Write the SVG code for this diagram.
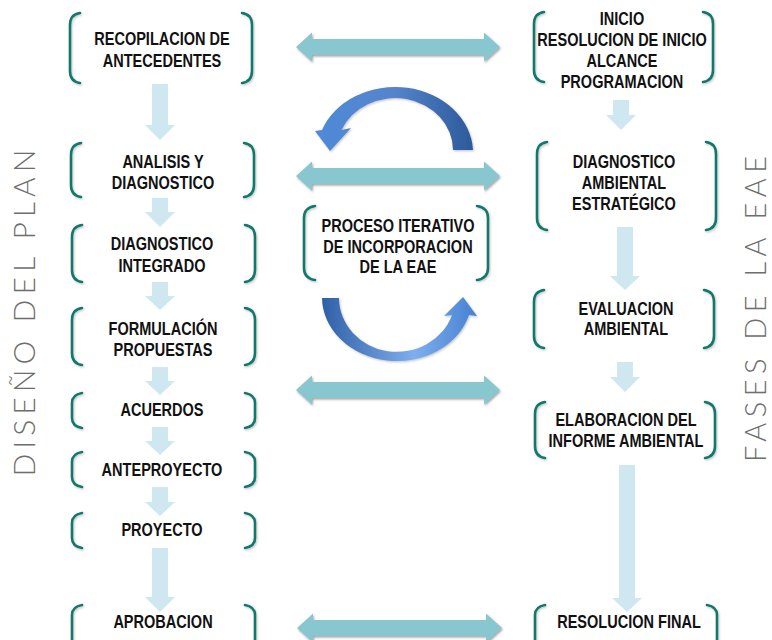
<svg xmlns="http://www.w3.org/2000/svg" width="772" height="640" viewBox="0 0 772 640">
<defs>
<style>
.br{fill:none;stroke:#0e7a70;stroke-width:2.6;stroke-linecap:round;filter:url(#sh)}
.t{font-family:"Liberation Sans",Arial,sans-serif;font-weight:bold;font-size:17.5px;fill:#111;text-anchor:middle}
.dn{fill:#cfe7f0}
.hz{fill:#88c7cf;filter:url(#sh2)}
.vt{font-family:Lato,"Open Sans","Liberation Sans",sans-serif;font-weight:300;font-size:30px;fill:#6e6e6e;text-anchor:middle}
</style>
<filter id="sh" x="-50%" y="-20%" width="200%" height="140%">
<feDropShadow dx="1" dy="1.2" stdDeviation="0.8" flood-color="#888" flood-opacity="0.5"/>
</filter>
<filter id="sh2" x="-10%" y="-40%" width="120%" height="180%">
<feDropShadow dx="1" dy="1.5" stdDeviation="0.9" flood-color="#666" flood-opacity="0.6"/>
</filter>
<linearGradient id="gTop" gradientUnits="userSpaceOnUse" x1="316" y1="120" x2="472" y2="120">
<stop offset="0" stop-color="#4f8ad8"/>
<stop offset="0.5" stop-color="#5484cc"/>
<stop offset="1" stop-color="#2d5a9a"/>
</linearGradient>
<linearGradient id="gBot" gradientUnits="userSpaceOnUse" x1="322" y1="320" x2="476" y2="320">
<stop offset="0" stop-color="#3060a6"/>
<stop offset="0.6" stop-color="#7eaeee"/>
<stop offset="1" stop-color="#4682d2"/>
</linearGradient>
</defs>

<g id="connectors">
<polygon class="dn" points="152,84 168,84 168,125 175,125 160,140 145,125 152,125"/>
<polygon class="dn" points="152,198 168,198 168,212 175,212 160,227 145,212 152,212"/>
<polygon class="dn" points="152,282 168,282 168,296 175,296 160,310 145,296 152,296"/>
<polygon class="dn" points="152,367 168,367 168,381 175,381 160,395 145,381 152,381"/>
<polygon class="dn" points="152,427 168,427 168,441 175,441 160,455 145,441 152,441"/>
<polygon class="dn" points="152,487 168,487 168,502 175,502 160,516 145,502 152,502"/>
<polygon class="dn" points="152,548 168,548 168,597 175,597 160,612 145,597 152,597"/>
<polygon class="dn" points="613,100 629,100 629,115 636,115 621,130 606,115 613,115"/>
<polygon class="dn" points="617,227 633,227 633,276 640,276 625,290 610,276 617,276"/>
<polygon class="dn" points="617,362 633,362 633,377 640,377 625,392 610,377 617,377"/>
<polygon class="dn" points="619,465 635,465 635,598 642,598 627,612 612,598 619,598"/>
<polygon class="hz" points="296,47 312,32.5 312,39 484,39 484,32.5 500,47 484,61.5 484,55 312,55 312,61.5"/>
<polygon class="hz" points="296,176 312,161.5 312,168 484,168 484,161.5 500,176 484,190.5 484,184 312,184 312,190.5"/>
<polygon class="hz" points="296,390 312,375.5 312,382 484,382 484,375.5 500,390 484,404.5 484,398 312,398 312,404.5"/>
<polygon class="hz" points="297,628 313,613.5 313,620 486,620 486,613.5 502,628 486,642.5 486,636 313,636 313,642.5"/>
<path fill="url(#gTop)" filter="url(#sh)" d="M473,150 A78,66 0 0 0 322,130 L315,131 L330,151 L351,128 L341.5,130 A58,52 0 0 1 453,150 Z"/>
<path fill="url(#gBot)" filter="url(#sh)" d="M322,298 A75,64 0 0 0 469,315 L477,316 L463,297 L444,316 L452,315 A58,54 0 0 1 339,298 Z"/>
</g>

<g id="label-diseno">
<text class="vt" transform="translate(35,313) rotate(-90)" textLength="327" lengthAdjust="spacing">DISEÑO DEL PLAN</text>
</g>
<g id="label-fases">
<text class="vt" transform="translate(766,309) rotate(-90)" textLength="306" lengthAdjust="spacing" style="font-size:29px">FASES DE LA EAE</text>
</g>

<g id="n-recopilacion">
<path class="br" d="M80,13 C73,14 70,18 70,25 L70,71 C70,78 73,82 80,83"/>
<path class="br" d="M242,13 C249,14 252,18 252,25 L252,71 C252,78 249,82 242,83"/>
<g transform="translate(162,0) scale(0.83,1)"><text class="t" x="0" y="45">RECOPILACION DE</text><text class="t" x="0" y="67">ANTECEDENTES</text></g>
</g>
<g id="n-analisis">
<path class="br" d="M81,143 C74,144 71,148 71,155 L71,185 C71,192 74,196 81,197"/>
<path class="br" d="M244,143 C251,144 254,148 254,155 L254,185 C254,192 251,196 244,197"/>
<g transform="translate(163,0) scale(0.83,1)"><text class="t" x="0" y="168">ANALISIS Y</text><text class="t" x="0" y="189">DIAGNOSTICO</text></g>
</g>
<g id="n-integrado">
<path class="br" d="M82,225 C75,226 72,230 72,237 L72,270 C72,277 75,281 82,282"/>
<path class="br" d="M245,225 C252,226 255,230 255,237 L255,270 C255,277 252,281 245,282"/>
<g transform="translate(162,0) scale(0.83,1)"><text class="t" x="0" y="250">DIAGNOSTICO</text><text class="t" x="0" y="272">INTEGRADO</text></g>
</g>
<g id="n-formulacion">
<path class="br" d="M82,308 C75,309 72,313 72,320 L72,353 C72,360 75,364 82,365"/>
<path class="br" d="M245,308 C252,309 255,313 255,320 L255,353 C255,360 252,364 245,365"/>
<g transform="translate(163,0) scale(0.83,1)"><text class="t" x="0" y="335">FORMULACIÓN</text><text class="t" x="0" y="356">PROPUESTAS</text></g>
</g>
<g id="n-acuerdos">
<path class="br" d="M82,393 C76,394 72,397 72,403 L72,418 C72,424 76,427 82,428"/>
<path class="br" d="M245,393 C251,394 255,397 255,403 L255,418 C255,424 251,427 245,428"/>
<g transform="translate(162,0) scale(0.83,1)"><text class="t" x="0" y="416">ACUERDOS</text></g>
</g>
<g id="n-anteproyecto">
<path class="br" d="M82,452 C76,453 72,456 72,462 L72,477 C72,483 76,486 82,487"/>
<path class="br" d="M245,452 C251,453 255,456 255,462 L255,477 C255,483 251,486 245,487"/>
<g transform="translate(162,0) scale(0.83,1)"><text class="t" x="0" y="476">ANTEPROYECTO</text></g>
</g>
<g id="n-proyecto">
<path class="br" d="M82,513 C76,514 72,517 72,523 L72,538 C72,544 76,547 82,548"/>
<path class="br" d="M245,513 C251,514 255,517 255,523 L255,538 C255,544 251,547 245,548"/>
<g transform="translate(162,0) scale(0.83,1)"><text class="t" x="0" y="536">PROYECTO</text></g>
</g>
<g id="n-aprobacion">
<path class="br" d="M82,605 C76,606 72,609 72,615 L72,640 C72,646 76,649 82,650"/>
<path class="br" d="M245,605 C251,606 255,609 255,615 L255,640 C255,646 251,649 245,650"/>
<g transform="translate(163,0) scale(0.83,1)"><text class="t" x="0" y="628">APROBACION</text></g>
</g>

<g id="n-proceso">
<path class="br" d="M315,206 C308,207 304,211 304,218 L304,268 C304,275 308,279 315,280"/>
<path class="br" d="M477,206 C484,207 488,211 488,218 L488,268 C488,275 484,279 477,280"/>
<g transform="translate(398,0) scale(0.83,1)"><text class="t" x="0" y="232">PROCESO ITERATIVO</text><text class="t" x="0" y="253">DE INCORPORACION</text><text class="t" x="0" y="273">DE LA EAE</text></g>
</g>

<g id="n-inicio">
<path class="br" d="M544,12 C537,13 534,17 534,24 L534,70 C534,77 537,81 544,82"/>
<path class="br" d="M703,12 C710,13 713,17 713,24 L713,70 C713,77 710,81 703,82"/>
<g transform="translate(622,0) scale(0.83,1)"><text class="t" x="0" y="25">INICIO</text><text class="t" x="0" y="46">RESOLUCION DE INICIO</text><text class="t" x="0" y="67">ALCANCE</text><text class="t" x="0" y="88">PROGRAMACION</text></g>
</g>
<g id="n-diagnostico-ambiental">
<path class="br" d="M547,142 C540,143 537,147 537,154 L537,218 C537,225 540,229 547,230"/>
<path class="br" d="M706,142 C713,143 716,147 716,154 L716,218 C716,225 713,229 706,230"/>
<g transform="translate(624,0) scale(0.83,1)"><text class="t" x="0" y="168">DIAGNOSTICO</text><text class="t" x="0" y="189">AMBIENTAL</text><text class="t" x="0" y="210">ESTRATÉGICO</text></g>
</g>
<g id="n-evaluacion">
<path class="br" d="M544,290 C537,291 534,295 534,302 L534,336 C534,343 537,347 544,348"/>
<path class="br" d="M704,290 C711,291 714,295 714,302 L714,336 C714,343 711,347 704,348"/>
<g transform="translate(626,0) scale(0.83,1)"><text class="t" x="0" y="315">EVALUACION</text><text class="t" x="0" y="335">AMBIENTAL</text></g>
</g>
<g id="n-elaboracion">
<path class="br" d="M545,402 C538,403 535,407 535,414 L535,446 C535,453 538,457 545,458"/>
<path class="br" d="M705,402 C712,403 715,407 715,414 L715,446 C715,453 712,457 705,458"/>
<g transform="translate(626,0) scale(0.83,1)"><text class="t" x="0" y="426">ELABORACION DEL</text><text class="t" x="0" y="447">INFORME AMBIENTAL</text></g>
</g>
<g id="n-resolucion-final">
<path class="br" d="M545,605 C539,606 535,609 535,615 L535,640 C535,646 539,649 545,650"/>
<path class="br" d="M707,605 C713,606 717,609 717,615 L717,640 C717,646 713,649 707,650"/>
<g transform="translate(629,0) scale(0.83,1)"><text class="t" x="0" y="628">RESOLUCION FINAL</text></g>
</g>
</svg>
